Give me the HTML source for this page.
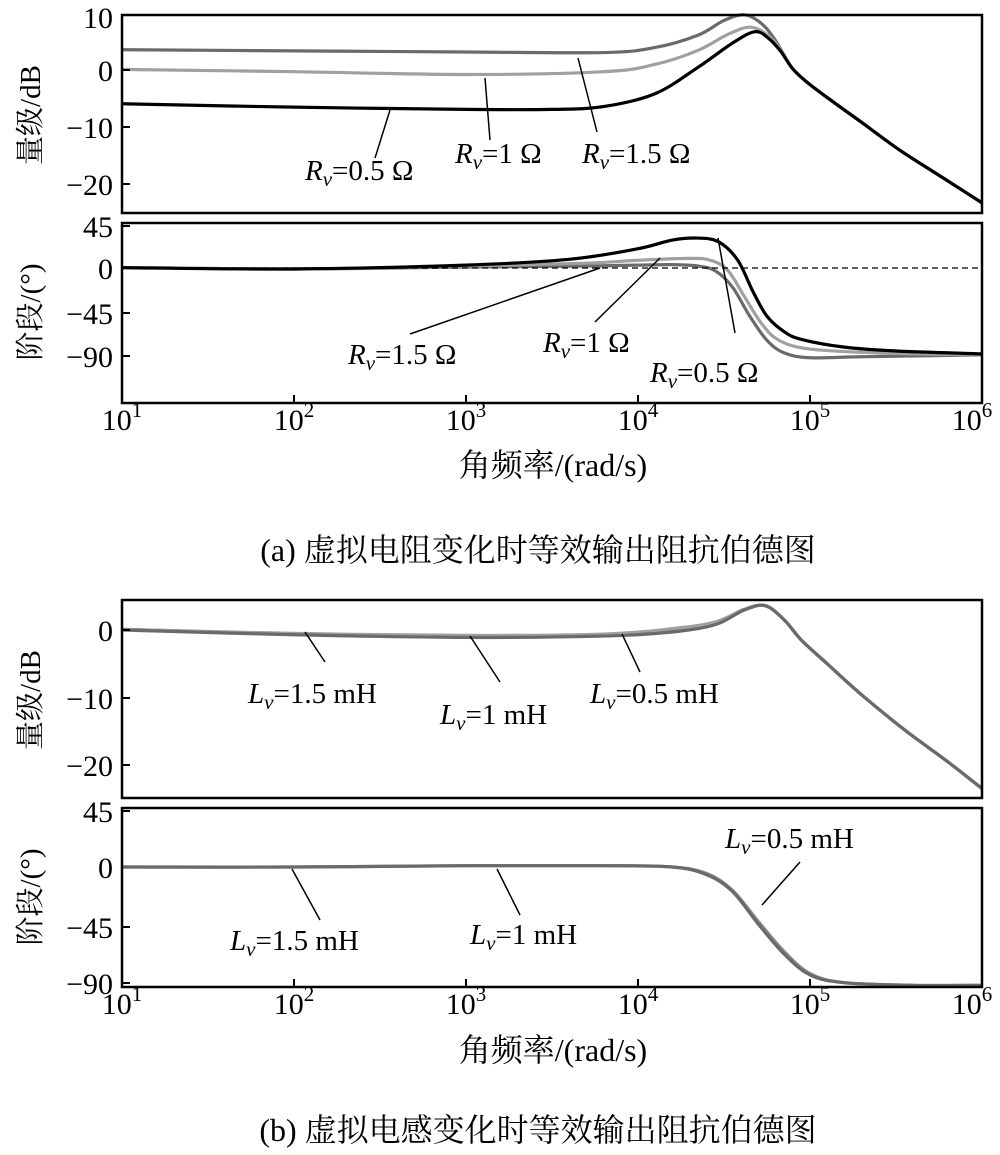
<!DOCTYPE html>
<html><head><meta charset="utf-8">
<style>
html,body{margin:0;padding:0;background:#fff;}
svg text{font-family:"Liberation Serif","Noto Serif CJK SC","Noto Sans CJK SC",serif;fill:#000;}
</style></head>
<body>
<svg id="s" width="1000" height="1150" xmlns="http://www.w3.org/2000/svg">
<g id="curves"></g>
<line x1="122" y1="268" x2="982" y2="268" stroke="#000" stroke-width="1.3" stroke-dasharray="6,4"/>
<g id="axes" fill="none" stroke="#000" stroke-width="2.5">
<rect x="122" y="15" width="860" height="198"/>
<rect x="122" y="223" width="860" height="180"/>
<rect x="122" y="600" width="860" height="198"/>
<rect x="122" y="808" width="860" height="179"/>
</g>
<g stroke="#000" stroke-width="2" id="ticks">
<line x1="122" y1="127" x2="130" y2="127"/><line x1="122" y1="184" x2="130" y2="184"/><line x1="122" y1="70" x2="130" y2="70"/>
<line x1="122" y1="226" x2="130" y2="226"/><line x1="122" y1="313" x2="130" y2="313"/><line x1="122" y1="356" x2="130" y2="356"/>
<line x1="122" y1="630" x2="130" y2="630"/><line x1="122" y1="698" x2="130" y2="698"/><line x1="122" y1="765" x2="130" y2="765"/>
<line x1="122" y1="811" x2="130" y2="811"/><line x1="122" y1="927" x2="130" y2="927"/><line x1="122" y1="983" x2="130" y2="983"/>
</g>
<g id="xt" stroke="#000" stroke-width="2"></g>
<g font-size="30" text-anchor="end">
<text x="113" y="28">10</text><text x="113" y="81">0</text><text x="113" y="138">−10</text><text x="113" y="195">−20</text>
<text x="113" y="237">45</text><text x="113" y="279">0</text><text x="113" y="324">−45</text><text x="113" y="367">−90</text>
<text x="113" y="641">0</text><text x="113" y="709">−10</text><text x="113" y="776">−20</text>
<text x="113" y="822">45</text><text x="113" y="878">0</text><text x="113" y="938">−45</text><text x="113" y="994">−90</text>
</g>
<g id="xl" font-size="30" text-anchor="middle"></g>
<g font-size="29">
<text transform="translate(40,115) rotate(-90)" text-anchor="middle">量级/dB</text>
<text transform="translate(40,312) rotate(-90)" text-anchor="middle">阶段/(°)</text>
<text transform="translate(40,700) rotate(-90)" text-anchor="middle">量级/dB</text>
<text transform="translate(40,897) rotate(-90)" text-anchor="middle">阶段/(°)</text>
</g>
<g font-size="32">
<text x="553" y="476" text-anchor="middle">角频率/(rad/s)</text>
<text x="538" y="561" text-anchor="middle">(a) 虚拟电阻变化时等效输出阻抗伯德图</text>
<text x="553" y="1061" text-anchor="middle">角频率/(rad/s)</text>
<text x="538" y="1141" text-anchor="middle">(b) 虚拟电感变化时等效输出阻抗伯德图</text>
</g>
<g stroke="#000" stroke-width="1.5">
<line x1="375" y1="158" x2="390" y2="110"/>
<line x1="490" y1="140" x2="485" y2="78"/>
<line x1="597" y1="132" x2="578" y2="58"/>
<line x1="410" y1="334" x2="600" y2="268"/>
<line x1="595" y1="322" x2="660" y2="258"/>
<line x1="735" y1="333" x2="718" y2="238"/>
<line x1="325" y1="662" x2="305" y2="632"/>
<line x1="500" y1="682" x2="470" y2="636"/>
<line x1="640" y1="672" x2="622" y2="634"/>
<line x1="320" y1="920" x2="292" y2="869"/>
<line x1="520" y1="915" x2="497" y2="869"/>
<line x1="800" y1="862" x2="762" y2="905"/>
</g>
<g font-size="29">
<text x="305" y="180"><tspan font-style="italic">R</tspan><tspan font-style="italic" font-size="21" dy="6">v</tspan><tspan dy="-6">=0.5 Ω</tspan></text>
<text x="455" y="163"><tspan font-style="italic">R</tspan><tspan font-style="italic" font-size="21" dy="6">v</tspan><tspan dy="-6">=1 Ω</tspan></text>
<text x="582" y="163"><tspan font-style="italic">R</tspan><tspan font-style="italic" font-size="21" dy="6">v</tspan><tspan dy="-6">=1.5 Ω</tspan></text>
<text x="348" y="364"><tspan font-style="italic">R</tspan><tspan font-style="italic" font-size="21" dy="6">v</tspan><tspan dy="-6">=1.5 Ω</tspan></text>
<text x="543" y="352"><tspan font-style="italic">R</tspan><tspan font-style="italic" font-size="21" dy="6">v</tspan><tspan dy="-6">=1 Ω</tspan></text>
<text x="650" y="382"><tspan font-style="italic">R</tspan><tspan font-style="italic" font-size="21" dy="6">v</tspan><tspan dy="-6">=0.5 Ω</tspan></text>
<text x="248" y="703"><tspan font-style="italic">L</tspan><tspan font-style="italic" font-size="21" dy="6">v</tspan><tspan dy="-6">=1.5 mH</tspan></text>
<text x="440" y="724"><tspan font-style="italic">L</tspan><tspan font-style="italic" font-size="21" dy="6">v</tspan><tspan dy="-6">=1 mH</tspan></text>
<text x="590" y="703"><tspan font-style="italic">L</tspan><tspan font-style="italic" font-size="21" dy="6">v</tspan><tspan dy="-6">=0.5 mH</tspan></text>
<text x="230" y="950"><tspan font-style="italic">L</tspan><tspan font-style="italic" font-size="21" dy="6">v</tspan><tspan dy="-6">=1.5 mH</tspan></text>
<text x="470" y="944"><tspan font-style="italic">L</tspan><tspan font-style="italic" font-size="21" dy="6">v</tspan><tspan dy="-6">=1 mH</tspan></text>
<text x="725" y="848"><tspan font-style="italic">L</tspan><tspan font-style="italic" font-size="21" dy="6">v</tspan><tspan dy="-6">=0.5 mH</tspan></text>
</g>
</svg>
<script>
var NS="http://www.w3.org/2000/svg";
function X(l){return 122+172*(l-1);}
function path(pts,fy,color,w){
 var p=pts.map(function(a){return [X(a[0]),fy(a[1])];});
 var d="M"+p[0][0]+","+p[0][1];
 for(var i=0;i<p.length-1;i++){
  var p0=p[i-1]||p[i],p1=p[i],p2=p[i+1],p3=p[i+2]||p2;
  var c1=[p1[0]+(p2[0]-p0[0])/6,p1[1]+(p2[1]-p0[1])/6];
  var c2=[p2[0]-(p3[0]-p1[0])/6,p2[1]-(p3[1]-p1[1])/6];
  d+=" C"+c1[0]+","+c1[1]+" "+c2[0]+","+c2[1]+" "+p2[0]+","+p2[1];
 }
 var e=document.createElementNS(NS,"path");
 e.setAttribute("d",d);e.setAttribute("fill","none");e.setAttribute("stroke",color);
 e.setAttribute("stroke-width",w||3.2);e.setAttribute("stroke-linejoin","round");
 document.getElementById("curves").appendChild(e);
}
var ma=function(v){return 70-5.63*v;}, pa=function(v){return 268-0.965*v;};
var mb=function(v){return 630-6.75*v;}, pb=function(v){return 867-1.30*v;};
var DG="#6a6a6a", LG="#a0a0a0", BK="#000";
var hi=[[4.9,0.2],[5.0,-2.6],[5.15,-6],[5.3,-9.3],[5.52,-14.2],[5.76,-18.9],[6,-23.6]];
path([[1,3.6],[2,3.4],[3,3.2],[3.8,3.1],[4.1,4],[4.35,6.2],[4.5,8.8],[4.62,9.8],[4.72,8.2],[4.8,5.2]].concat(hi),ma,DG);
path([[1,0.1],[2,-0.3],[3,-0.8],[3.8,-0.3],[4.1,1],[4.35,3.5],[4.52,6.3],[4.65,7.6],[4.75,6.3],[4.82,4]].concat(hi),ma,LG);
path([[1,-6],[2,-6.6],[3,-7],[3.5,-7],[3.8,-6.5],[4.1,-4.2],[4.35,0.5],[4.55,4.8],[4.68,6.8],[4.76,5.6],[4.83,3.3]].concat(hi),ma,BK);
path([[1,0.5],[2,-1],[3,1],[3.7,2],[4,3],[4.2,3.5],[4.35,2],[4.45,-3],[4.55,-20],[4.65,-50],[4.75,-75],[4.85,-88],[5,-93],[5.3,-92],[6,-90]],pa,DG);
path([[1,0.5],[2,-1],[3,2],[3.7,5],[4,8],[4.3,10],[4.42,8],[4.52,-2],[4.62,-30],[4.72,-58],[4.82,-75],[5,-84],[5.4,-88],[6,-90]],pa,LG);
path([[1,0.3],[2,-1],[3,3],[3.6,9],[4,20],[4.2,29],[4.35,31],[4.47,27],[4.58,8],[4.67,-25],[4.75,-50],[4.85,-66],[4.95,-74],[5.2,-82],[5.5,-86],[6,-89]],pa,BK);
var hb=[[4.74,3.6],[4.85,1.5],[4.95,-1.5],[5.1,-5],[5.3,-9.6],[5.55,-14.8],[5.8,-19.5],[6,-23.5]];
path([[1,0.1],[2,-0.6],[3,-1],[3.8,-0.8],[4.2,0],[4.45,1],[4.62,3]].concat(hb),mb,"#555");
path([[1,0.1],[2,-0.5],[3,-0.8],[3.8,-0.6],[4.2,0.2],[4.45,1.2],[4.62,3.1]].concat(hb),mb,LG);
path([[1,0],[2,-0.7],[3,-1.1],[3.8,-0.9],[4.2,-0.3],[4.45,0.8],[4.62,3]].concat(hb),mb,DG);
path([[1,0],[2,0],[3,1],[3.8,1],[4.2,0],[4.4,-5],[4.55,-18],[4.7,-42],[4.85,-65],[5,-82],[5.2,-89],[5.6,-91],[6,-91]],pb,"#888");
path([[1,0],[2,0],[3,1],[3.8,1],[4.2,0],[4.4,-6],[4.55,-19],[4.7,-44],[4.85,-67],[5,-83],[5.2,-89],[5.6,-91],[6,-91]],pb,DG);
var xt=document.getElementById("xt"), xl=document.getElementById("xl");
[[403,418],[987,1002]].forEach(function(r){
 for(var k=1;k<=6;k++){
  var x=X(k);
  if(k>1&&k<6){var l=document.createElementNS(NS,"line");l.setAttribute("x1",x);l.setAttribute("x2",x);l.setAttribute("y1",r[0]);l.setAttribute("y2",r[0]-8);xt.appendChild(l);}
  var t=document.createElementNS(NS,"text");t.setAttribute("x",k==6?972:x);t.setAttribute("y",r[1]+12);
  t.innerHTML='10<tspan font-size="21" dy="-13">'+k+'</tspan>';xl.appendChild(t);
 }
});
</script>
</body></html>
